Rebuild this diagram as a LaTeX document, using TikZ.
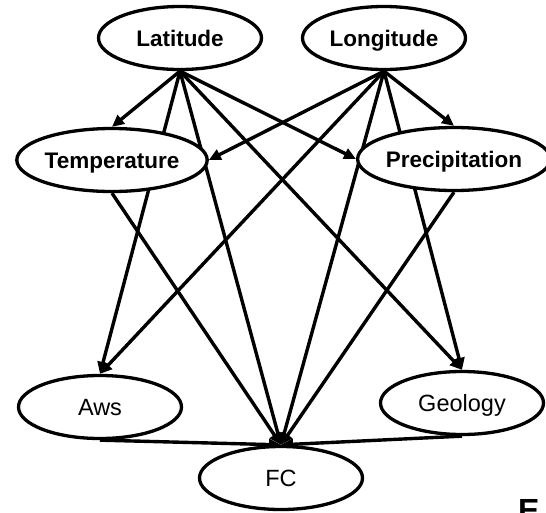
\documentclass[tikz,border=0pt]{standalone}
\usepackage{fontspec}
\setmainfont{Liberation Sans}
\usetikzlibrary{shapes.geometric,arrows.meta,backgrounds}

\tikzset{
  var/.style={ellipse, draw=black, fill=white, line width=3.3pt,
    minimum width=163pt, minimum height=63pt, inner sep=0pt, text depth=0pt},
  toplabel/.style={font=\fontsize{22.5}{24}\selectfont\bfseries, text height=16.1pt},
  lowlabel/.style={font=\fontsize{23.5}{25}\selectfont, text height=16.8pt},
  link/.style={line width=3.4pt, draw=black,
    -{Triangle[length=12pt,width=11pt]}},
}

\begin{document}
\begin{tikzpicture}[x=1pt,y=-1pt]
  \useasboundingbox (0,0) rectangle (546,512);

  % variables
  \node[var,toplabel] (lat)  at (180,38)  {Latitude};
  \node[var,toplabel] (lon)  at (384,38)  {Longitude};
  \node[var,toplabel] (temp) at (112,160) {Temperature};
  \node[var,toplabel] (prec) at (454,159) {Precipitation};
  \node[var,lowlabel] (aws)  at (100,407) {Aws};
  \node[var,lowlabel] (geo)  at (462,403) {Geology};
  \node[var,lowlabel] (fc)   at (281,478) {FC};

  % panel letter
  \node[anchor=base west, inner sep=0pt,
        font=\fontsize{32}{34}\selectfont\bfseries] (panel) at (518,521) {E};

  % causal links, kept behind the ellipses
  \begin{pgfonlayer}{background}
    \draw[link] (lat.south) -- (temp.north);
    \draw[link] (lat.south) -- (aws.north);
    \draw[link] (lat.south) -- (fc.north);
    \draw[link] (lat.south) -- (geo.north);
    \draw[link] (lat.south) -- (prec.west);

    \draw[link] (lon.south) -- (temp.east);
    \draw[link] (lon.south) -- (aws.north);
    \draw[link] (lon.south) -- (fc.north);
    \draw[link] (lon.south) -- (geo.north);
    \draw[link] (lon.south) -- (prec.north);

    \draw[link] (temp.south) -- (fc.north);
    \draw[link] (prec.south) -- (fc.north);
    \draw[link] (aws.south) -- (fc.north);
    \draw[link] (geo.south) -- (fc.north);
  \end{pgfonlayer}
\end{tikzpicture}
\end{document}
